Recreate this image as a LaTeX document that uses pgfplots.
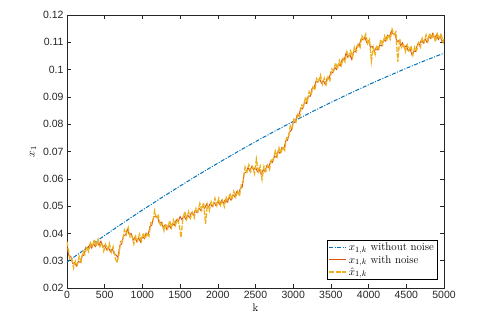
\documentclass[border=0pt]{standalone}
\usepackage{pgfplots}
\pgfplotsset{compat=1.18}
\usepackage{fontspec}
\newfontfamily\ticksf{Liberation Sans}
\definecolor{mblue}{rgb}{0,0.447,0.741}
\definecolor{mred}{rgb}{0.85,0.325,0.098}
\definecolor{myellow}{rgb}{0.929,0.694,0.125}
\definecolor{axgray}{rgb}{0.15,0.15,0.15}
\begin{document}
\begin{tikzpicture}
\begin{axis}[
    scale only axis,
    width=377pt, height=273pt,
    xmin=0, xmax=5000, ymin=0.02, ymax=0.12,
    xtick={0,500,...,5000},
    ytick={0.02,0.03,...,0.12},
    scaled x ticks=false, scaled y ticks=false,
    tick align=inside,
    major tick length=4pt,
    axis line style={axgray},
    every tick/.style={axgray},
    /pgf/number format/assume math mode=true,
    tick label style={font=\ticksf\fontsize{10.5}{12}\selectfont, text=axgray},
    xticklabel style={/pgf/number format/1000 sep={}},
    yticklabel style={/pgf/number format/fixed, /pgf/number format/precision=2},
    xlabel={k}, ylabel={$x_1$},
    label style={font=\fontsize{11}{13}\selectfont},
    xlabel style={yshift=2pt},
    legend style={at={(0.982,0.03)}, anchor=south east, font=\fontsize{11}{12.5}\selectfont,
      draw=black, inner sep=1pt, row sep=-1pt},
    legend cell align=left,
]
% x_{1,k} without noise
\addplot[mblue, line width=1pt, dash pattern=on 4pt off 1.5pt on 1pt off 1.5pt] coordinates {
(0,0.0295) (250,0.03443) (500,0.03925) (750,0.04395) (1000,0.04854) (1250,0.05300)
(1500,0.05736) (1750,0.06159) (2000,0.06571) (2250,0.06971) (2500,0.07360) (2750,0.07736)
(3000,0.08101) (3250,0.08455) (3500,0.08797) (3750,0.09127) (4000,0.09445) (4250,0.09752)
(4500,0.10048) (4750,0.10331) (5000,0.10602)};
\addlegendentry{$x_{1,k}$ without noise}
% x_{1,k} with noise
\addplot[mred, line width=0.9pt] coordinates {
(0,0.0352) (25,0.0318) (50,0.0316) (75,0.0290) (100,0.0293) (125,0.0281) (150,0.0297) (175,0.0294)
(200,0.0318) (225,0.0320) (250,0.0349) (275,0.0343) (300,0.0359) (325,0.0347) (350,0.0362) (375,0.0352)
(400,0.0368) (425,0.0357) (450,0.0371) (475,0.0351) (500,0.0356) (525,0.0340) (550,0.0349) (575,0.0333)
(600,0.0343) (625,0.0326) (650,0.0321) (675,0.0312) (700,0.0356) (725,0.0361) (750,0.0391) (775,0.0394)
(800,0.0415) (825,0.0396) (850,0.0400) (875,0.0375) (900,0.0386) (925,0.0370) (950,0.0383) (975,0.0369)
(1000,0.0390) (1025,0.0381) (1050,0.0401) (1075,0.0393) (1100,0.0425) (1125,0.0430) (1150,0.0462) (1175,0.0461)
(1200,0.0463) (1225,0.0436) (1250,0.0441) (1275,0.0423) (1300,0.0431) (1325,0.0414) (1350,0.0430) (1375,0.0420)
(1400,0.0437) (1425,0.0429) (1450,0.0450) (1475,0.0443) (1500,0.0462) (1525,0.0450) (1550,0.0465) (1575,0.0452)
(1600,0.0467) (1625,0.0458) (1650,0.0476) (1675,0.0467) (1700,0.0484) (1725,0.0476) (1750,0.0493) (1775,0.0484)
(1800,0.0501) (1825,0.0491) (1850,0.0507) (1875,0.0495) (1900,0.0510) (1925,0.0498) (1950,0.0514) (1975,0.0502)
(2000,0.0517) (2025,0.0506) (2050,0.0521) (2075,0.0510) (2100,0.0525) (2125,0.0514) (2150,0.0532) (2175,0.0522)
(2200,0.0541) (2225,0.0534) (2250,0.0553) (2275,0.0545) (2300,0.0565) (2325,0.0570) (2350,0.0620) (2375,0.0625)
(2400,0.0641) (2425,0.0629) (2450,0.0645) (2475,0.0633) (2500,0.0643) (2525,0.0626) (2550,0.0634) (2575,0.0616)
(2600,0.0632) (2625,0.0627) (2650,0.0648) (2675,0.0642) (2700,0.0664) (2725,0.0660) (2750,0.0683) (2775,0.0679)
(2800,0.0701) (2825,0.0694) (2850,0.0715) (2875,0.0709) (2900,0.0738) (2925,0.0741) (2950,0.0770) (2975,0.0778)
(3000,0.0807) (3025,0.0806) (3050,0.0832) (3075,0.0831) (3100,0.0859) (3125,0.0856) (3150,0.0880) (3175,0.0876)
(3200,0.0903) (3225,0.0902) (3250,0.0931) (3275,0.0931) (3300,0.0956) (3325,0.0954) (3350,0.0967) (3375,0.0950)
(3400,0.0960) (3425,0.0945) (3450,0.0969) (3475,0.0967) (3500,0.0991) (3525,0.0988) (3550,0.1008) (3575,0.1000)
(3600,0.1021) (3625,0.1014) (3650,0.1038) (3675,0.1034) (3700,0.1059) (3725,0.1046) (3750,0.1056) (3775,0.1038)
(3800,0.1066) (3825,0.1065) (3850,0.1089) (3875,0.1087) (3900,0.1112) (3925,0.1109) (3950,0.1119) (3975,0.1099)
(4000,0.1106) (4025,0.1082) (4050,0.1085) (4075,0.1067) (4100,0.1081) (4125,0.1072) (4150,0.1090) (4175,0.1087)
(4200,0.1110) (4225,0.1104) (4250,0.1126) (4275,0.1120) (4300,0.1140) (4325,0.1131) (4350,0.1132) (4375,0.1102)
(4400,0.1106) (4425,0.1088) (4450,0.1098) (4475,0.1080) (4500,0.1088) (4525,0.1069) (4550,0.1077) (4575,0.1054)
(4600,0.1067) (4625,0.1067) (4650,0.1094) (4675,0.1092) (4700,0.1109) (4725,0.1097) (4750,0.1112) (4775,0.1100)
(4800,0.1121) (4825,0.1114) (4850,0.1132) (4875,0.1115) (4900,0.1127) (4925,0.1110) (4950,0.1121) (4975,0.1103)
(5000,0.1110)};
\addlegendentry{$x_{1,k}$ with noise}
% estimate \hat{x}_{1,k}
\addplot[myellow, line width=1.3pt, dash pattern=on 5pt off 1.5pt] coordinates {
(0,0.0370) (12,0.0349) (37,0.0307) (62,0.0309) (87,0.0273) (112,0.0299) (137,0.0285) (162,0.0316) (187,0.0297)
(212,0.0334) (237,0.0323) (262,0.0351) (287,0.0333) (312,0.0365) (337,0.0351) (362,0.0378) (387,0.0352)
(412,0.0378) (437,0.0352) (462,0.0366) (487,0.0335) (512,0.0360) (537,0.0341) (562,0.0363) (587,0.0331)
(612,0.0351) (637,0.0313) (662,0.0292) (687,0.0319) (712,0.0371) (737,0.0371) (762,0.0413) (787,0.0396)
(812,0.0421) (837,0.0386) (862,0.0392) (887,0.0361) (912,0.0390) (937,0.0373) (962,0.0397) (987,0.0372)
(1012,0.0402) (1037,0.0380) (1062,0.0402) (1087,0.0390) (1112,0.0439) (1137,0.0442) (1162,0.0483) (1187,0.0454)
(1212,0.0465) (1237,0.0427) (1262,0.0437) (1287,0.0409) (1312,0.0435) (1337,0.0418) (1362,0.0447) (1387,0.0421)
(1412,0.0449) (1437,0.0429) (1462,0.0451) (1487,0.0434) (1512,0.0385) (1537,0.0454) (1562,0.0480) (1587,0.0452)
(1612,0.0479) (1637,0.0456) (1662,0.0477) (1687,0.0457) (1712,0.0492) (1737,0.0480) (1762,0.0510) (1787,0.0485)
(1812,0.0513) (1837,0.0435) (1862,0.0506) (1887,0.0483) (1912,0.0516) (1937,0.0502) (1962,0.0529) (1987,0.0502)
(2012,0.0528) (2037,0.0503) (2062,0.0521) (2087,0.0498) (2112,0.0532) (2137,0.0519) (2162,0.0548) (2187,0.0524)
(2212,0.0554) (2237,0.0533) (2262,0.0554) (2287,0.0536) (2312,0.0579) (2337,0.0591) (2362,0.0643) (2387,0.0625)
(2412,0.0651) (2437,0.0626) (2462,0.0644) (2487,0.0619) (2512,0.0672) (2537,0.0626) (2562,0.0646) (2587,0.0598)
(2612,0.0646) (2637,0.0627) (2662,0.0650) (2687,0.0634) (2712,0.0674) (2737,0.0668) (2762,0.0702) (2787,0.0682)
(2812,0.0714) (2837,0.0694) (2862,0.0717) (2887,0.0704) (2912,0.0751) (2937,0.0751) (2962,0.0795) (2987,0.0785)
(3012,0.0822) (3037,0.0808) (3062,0.0837) (3087,0.0826) (3112,0.0870) (3137,0.0864) (3162,0.0899) (3187,0.0882)
(3212,0.0919) (3237,0.0906) (3262,0.0936) (3287,0.0925) (3312,0.0967) (3337,0.0957) (3362,0.0980) (3387,0.0947)
(3412,0.0969) (3437,0.0946) (3462,0.0973) (3487,0.0960) (3512,0.1002) (3537,0.0994) (3562,0.1025) (3587,0.1003)
(3612,0.1034) (3637,0.1015) (3662,0.1041) (3687,0.1028) (3712,0.1065) (3737,0.1047) (3762,0.1068) (3787,0.1044)
(3812,0.1082) (3837,0.1066) (3862,0.1093) (3887,0.1081) (3912,0.1123) (3937,0.1110) (3962,0.1130) (3987,0.1095)
(4012,0.1110) (4037,0.1030) (4062,0.1081) (4087,0.1055) (4112,0.1089) (4137,0.1077) (4162,0.1110) (4187,0.1091)
(4212,0.1123) (4237,0.1104) (4262,0.1128) (4287,0.1111) (4312,0.1148) (4337,0.1128) (4362,0.1138) (4387,0.1028)
(4412,0.1113) (4437,0.1082) (4462,0.1094) (4487,0.1065) (4512,0.1091) (4537,0.1069) (4562,0.1087) (4587,0.1053)
(4612,0.1083) (4637,0.1070) (4662,0.1098) (4687,0.1082) (4712,0.1115) (4737,0.1101) (4762,0.1127) (4787,0.1103)
(4812,0.1134) (4837,0.1112) (4862,0.1129) (4887,0.1102) (4912,0.1131) (4937,0.1112) (4962,0.1133) (4987,0.1100)
(5000,0.1112)};
\addlegendentry{$\hat{x}_{1,k}$}
\end{axis}
\path (-67pt,-35pt) rectangle (420pt,288pt);
\end{tikzpicture}
\end{document}
